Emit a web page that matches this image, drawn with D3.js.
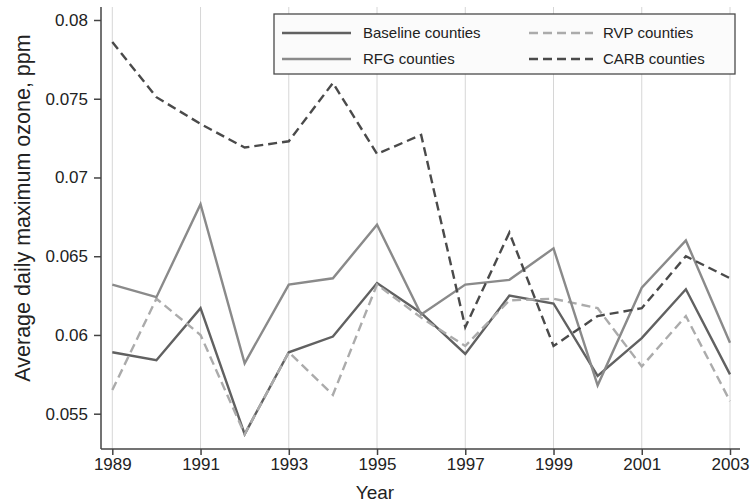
<!DOCTYPE html>
<html>
<head>
<meta charset="utf-8">
<script src="https://cdn.jsdelivr.net/npm/d3@7"></script>
<style>
  body { margin: 0; background: #fff; }
  svg { display: block; font-family: "Liberation Sans", Arial, Helvetica, sans-serif; }
  .grid line { stroke: #d6d6d6; stroke-width: 1; }
  .axis-line { stroke: #444; stroke-width: 1.5; }
  .os .tick line { stroke: #444; stroke-width: 1.5; }
  .os .tick text { fill: #222; font-size: 17px; }
  .series { fill: none; stroke-width: 2.4; stroke-linejoin: miter; }
</style>
</head>
<body>
<div id="okvir"></div>
<script>
// podatci procitani sa slike
const years = [1989, 1990, 1991, 1992, 1993, 1994, 1995, 1996, 1997, 1998, 1999, 2000, 2001, 2002, 2003];
const baseline = [0.0589, 0.0584, 0.0617, 0.0537, 0.0589, 0.0599, 0.0633, 0.0614, 0.0588, 0.0625, 0.0620, 0.0574, 0.0598, 0.0629, 0.0575];
const rvp      = [0.0565, 0.0623, 0.0600, 0.0537, 0.0589, 0.0562, 0.0632, 0.0611, 0.0593, 0.0622, 0.0623, 0.0617, 0.0580, 0.0612, 0.0558];
const rfg      = [0.0632, 0.0624, 0.0683, 0.0582, 0.0632, 0.0636, 0.0670, 0.0613, 0.0632, 0.0635, 0.0655, 0.0568, 0.0630, 0.0660, 0.0595];
const carb     = [0.0786, 0.0751, 0.0734, 0.0719, 0.0723, 0.0760, 0.0715, 0.0727, 0.0605, 0.0665, 0.0593, 0.0612, 0.0617, 0.0650, 0.0636];

const seriesNames = ["Baseline counties", "RVP counties", "RFG counties", "CARB counties"];
const xTicks = [1989, 1991, 1993, 1995, 1997, 1999, 2001, 2003];
const yTicks = [0.055, 0.06, 0.065, 0.07, 0.075, 0.08];
const yTickLabels = ["0.055", "0.06", "0.065", "0.07", "0.075", "0.08"];

const drawChart = () => {
  const dimensions = {
    width: 752,
    height: 502,
    margin: { top: 7, right: 12, bottom: 53, left: 101 }
  };
  dimensions.boundsWidth = dimensions.width - dimensions.margin.left - dimensions.margin.right;
  dimensions.boundsHeight = dimensions.height - dimensions.margin.top - dimensions.margin.bottom;

  const styles = [
    { color: "#616161", dash: null },
    { color: "#ababab", dash: "9,5" },
    { color: "#8a8a8a", dash: null },
    { color: "#4a4a4a", dash: "9,5" }
  ];
  const seriesValues = [baseline, rvp, rfg, carb];
  const data = seriesValues.map((vals, i) => ({
    name: seriesNames[i],
    style: styles[i],
    points: years.map((yr, j) => ({ year: yr, value: vals[j] }))
  }));

  const svg = d3.select("#okvir")
    .append("svg")
      .attr("width", dimensions.width)
      .attr("height", dimensions.height);

  const bounds = svg.append("g")
    .attr("transform", `translate(${dimensions.margin.left}, ${dimensions.margin.top})`);

  const xScale = d3.scaleLinear()
    .domain([1989, 2003])
    .range([11.3, 629]);

  const yScale = d3.scaleLinear()
    .domain([0.055, 0.08])
    .range([406.7, 13]);

  // mreza
  bounds.append("g").attr("class", "grid")
    .selectAll("line")
    .data(xTicks)
    .join("line")
      .attr("x1", d => xScale(d))
      .attr("x2", d => xScale(d))
      .attr("y1", 0)
      .attr("y2", dimensions.boundsHeight);

  // linije
  const lineGenerator = d3.line()
    .x(d => xScale(d.year))
    .y(d => yScale(d.value));

  bounds.selectAll(".series")
    .data(data)
    .join("path")
      .attr("class", "series")
      .attr("stroke", d => d.style.color)
      .attr("stroke-dasharray", d => d.style.dash)
      .attr("d", d => lineGenerator(d.points));

  // osi
  const yAxis = bounds.append("g")
    .attr("class", "os")
    .call(d3.axisLeft(yScale).tickValues(yTicks).tickSize(7).tickPadding(6)
      .tickFormat((d, i) => yTickLabels[i]));
  yAxis.select(".domain").remove();

  const xAxis = bounds.append("g")
    .attr("class", "os")
    .attr("transform", `translate(0, ${dimensions.boundsHeight})`)
    .call(d3.axisBottom(xScale).tickValues(xTicks).tickSize(6).tickPadding(3)
      .tickFormat(d3.format("d")));
  xAxis.select(".domain").remove();

  bounds.append("line").attr("class", "axis-line")
    .attr("x1", 0).attr("x2", 0)
    .attr("y1", 0).attr("y2", dimensions.boundsHeight);
  bounds.append("line").attr("class", "axis-line")
    .attr("x1", 0).attr("x2", dimensions.boundsWidth)
    .attr("y1", dimensions.boundsHeight).attr("y2", dimensions.boundsHeight);

  // naslovi osi
  svg.append("text")
    .attr("x", 375)
    .attr("y", 499)
    .attr("text-anchor", "middle")
    .style("font-size", "19px")
    .style("fill", "#222")
    .text("Year");

  svg.append("text")
    .attr("transform", "translate(30, 208) rotate(-90)")
    .attr("text-anchor", "middle")
    .style("font-size", "21.5px")
    .style("fill", "#222")
    .text("Average daily maximum ozone, ppm");

  // legenda
  const legend = svg.append("g").attr("transform", "translate(274, 14)");
  legend.append("rect")
    .attr("width", 461)
    .attr("height", 60)
    .attr("fill", "#fbfbfb")
    .attr("stroke", "#4a4a4a")
    .attr("stroke-width", 1.3);

  const legendPos = [
    { x: 8, y: 19 },
    { x: 255, y: 19 },
    { x: 8, y: 45 },
    { x: 255, y: 45 }
  ];
  const items = legend.selectAll(".item")
    .data(data)
    .join("g")
      .attr("class", "item")
      .attr("transform", (d, i) => `translate(${legendPos[i].x}, ${legendPos[i].y})`);

  items.append("line")
    .attr("x1", 0)
    .attr("x2", (d, i) => i % 2 === 0 ? 69 : 64)
    .attr("stroke", d => d.style.color)
    .attr("stroke-width", 2.4)
    .attr("stroke-dasharray", d => d.style.dash);

  items.append("text")
    .attr("x", (d, i) => i % 2 === 0 ? 81 : 74)
    .attr("dy", "0.35em")
    .style("font-size", "15px")
    .style("fill", "#222")
    .text(d => d.name);
};

drawChart();
</script>
</body>
</html>
